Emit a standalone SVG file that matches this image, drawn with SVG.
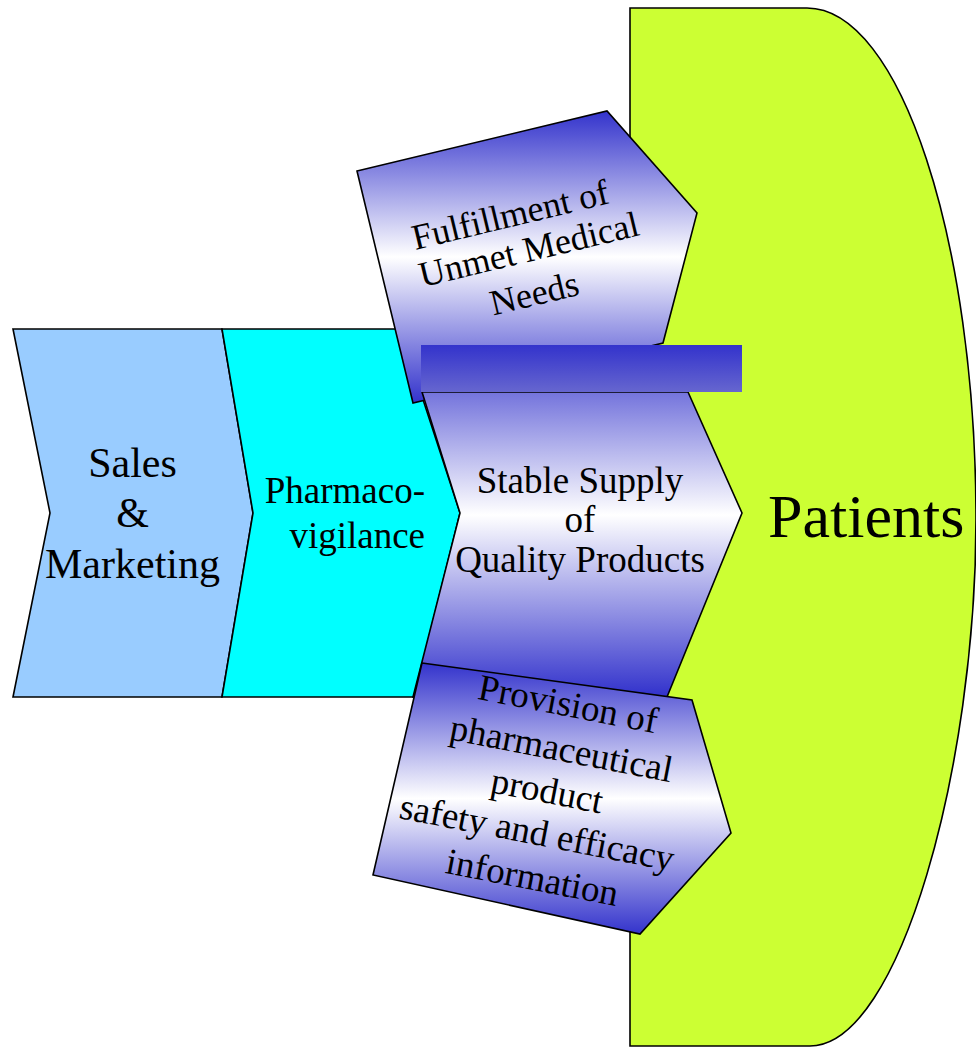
<svg xmlns="http://www.w3.org/2000/svg" width="976" height="1047" viewBox="0 0 976 1047">
<defs>
<linearGradient id="gBlue" x1="0" y1="0" x2="0" y2="1">
<stop offset="0" stop-color="#3333cc"/>
<stop offset="0.5" stop-color="#ffffff"/>
<stop offset="1" stop-color="#3333cc"/>
</linearGradient>
<linearGradient id="gStable" gradientUnits="userSpaceOnUse" x1="0" y1="335" x2="0" y2="695">
<stop offset="0" stop-color="#3333cc"/>
<stop offset="0.5" stop-color="#ffffff"/>
<stop offset="1" stop-color="#3333cc"/>
</linearGradient>
<linearGradient id="gBar" x1="0" y1="0" x2="0" y2="1">
<stop offset="0" stop-color="#3333cc"/>
<stop offset="1" stop-color="#6666cf"/>
</linearGradient>
</defs>
<style>
.sh{stroke:#000;stroke-width:1.6;stroke-linejoin:miter}
.t{font-family:"Liberation Serif","Times New Roman",serif;fill:#000}
</style>
<g id="patients">
<path class="sh" fill="#ccff33" d="M630,8 H807 C900,8 976,240 976,520 C976,765 900,1046 810,1046 H630 Z"/>
<text class="t" x="768" y="537" font-size="62">Patients</text>
</g>
<g id="sales">
<polygon class="sh" fill="#99ccff" points="13,329 222,329 253,513 222,697 13,697 50,513"/>
<text class="t" font-size="42" text-anchor="middle"><tspan x="132.5" y="477">Sales</tspan><tspan x="132.5" y="527">&amp;</tspan><tspan x="132.5" y="578">Marketing</tspan></text>
</g>
<g id="pharmacovigilance">
<polygon class="sh" fill="#00ffff" points="222,329 400,329 460,513 414,697 222,697 253,513"/>
<text class="t" font-size="37" text-anchor="end"><tspan x="425" y="503">Pharmaco-</tspan><tspan x="425" y="548">vigilance</tspan></text>
</g>
<g id="fulfillment">
<polygon class="sh" fill="url(#gBlue)" points="357,171 607,111 697,213 663,343 413,403"/>
<text class="t" font-size="36" text-anchor="middle" transform="rotate(-13.5)"><tspan x="446" y="340">Fulfillment of</tspan><tspan x="456" y="378">Unmet Medical</tspan><tspan x="451" y="422">Needs</tspan></text>
</g>
<g id="stable-supply">
<polygon class="sh" fill="url(#gStable)" points="422,392 688,392 742,513 667,697 413,697 460,513"/>
<text class="t" font-size="37" text-anchor="middle"><tspan x="580" y="493">Stable Supply</tspan><tspan x="580" y="532">of</tspan><tspan x="580" y="572">Quality Products</tspan></text>
</g>
<g id="provision">
<polygon class="sh" fill="url(#gBlue)" points="422,663 692,700 731,833 640,934 373,875"/>
<text class="t" font-size="37" text-anchor="middle" transform="rotate(11)"><tspan x="692" y="595">Provision of</tspan><tspan x="694" y="640">pharmaceutical</tspan><tspan x="688" y="684">product</tspan><tspan x="686" y="727">safety and efficacy</tspan><tspan x="690" y="772">information</tspan></text>
</g>
<g id="bar">
<rect x="421" y="345" width="321" height="47" fill="url(#gBar)"/>
</g>
<g id="connectors"/>
</svg>
